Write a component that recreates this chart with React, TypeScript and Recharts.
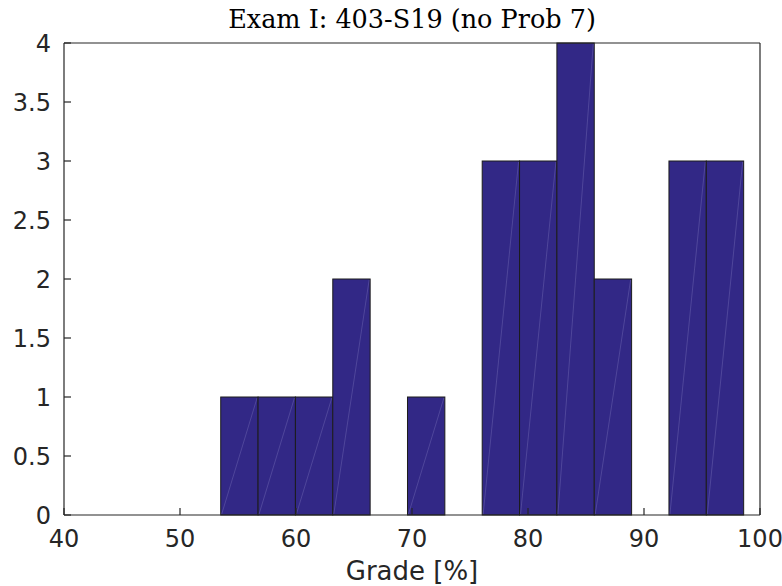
import { ComposedChart, Bar, XAxis, YAxis } from "recharts";

// histogram bins
const binStart = 53.5;
const binWidth = 3.22;
const binCounts = [1, 1, 1, 2, 0, 1, 0, 3, 3, 4, 2, 0, 3, 3];
const xTicks = [40, 50, 60, 70, 80, 90, 100];
const yTicks = [0, 0.5, 1, 1.5, 2, 2.5, 3, 3.5, 4];

const data = binCounts.map((count, i) => ({
  center: binStart + binWidth * (i + 0.5),
  count,
}));

const W = 782;
const H = 586;
const LEFT = 64;
const RIGHT = 22;
const TOP = 43;
const BOTTOM = 71;
const plotW = W - LEFT - RIGHT;
// bins touch each other, so the bar is as wide as one bin on the x scale
const barPx = (binWidth * plotW) / (xTicks[xTicks.length - 1] - xTicks[0]);

const axisColor = "#262626";
const tickFont = { fontFamily: "DejaVu Sans", fontSize: 24, fill: axisColor };

function HistBar(props: any) {
  const { x, y, width, height } = props;
  if (!height || height <= 0) return null;
  const left = x + width / 2 - barPx / 2;
  return (
    <g>
      <rect x={left} y={y} width={barPx} height={height} fill="#322886" stroke="#1c1c1c" strokeWidth={1} />
      <line
        x1={left + 1}
        y1={y + height - 1}
        x2={left + barPx - 1}
        y2={y + 1}
        stroke="#8e89c9"
        strokeOpacity={0.45}
        strokeWidth={0.7}
      />
    </g>
  );
}

export default function App() {
  return (
    <div style={{ position: "absolute", left: 0, top: 0, width: W, height: H, background: "#fff" }}>
      <ComposedChart
        width={W}
        height={H}
        data={data}
        margin={{ top: TOP - 1, right: RIGHT - 1, left: 0, bottom: 0 }}
      >
        <XAxis
          dataKey="center"
          type="number"
          domain={[40, 100]}
          ticks={xTicks}
          allowDataOverflow
          height={BOTTOM}
          tickSize={-7}
          tickMargin={22}
          tick={tickFont}
          axisLine={{ stroke: axisColor, strokeWidth: 1.2 }}
          tickLine={{ stroke: axisColor, strokeWidth: 1.2 }}
        />
        <XAxis
          xAxisId="top"
          orientation="top"
          dataKey="center"
          type="number"
          domain={[40, 100]}
          ticks={xTicks}
          allowDataOverflow
          height={1}
          tickSize={-7}
          tick={false}
          axisLine={{ stroke: axisColor, strokeWidth: 1.2 }}
          tickLine={{ stroke: axisColor, strokeWidth: 1.2 }}
        />
        <YAxis
          type="number"
          domain={[0, 4]}
          ticks={yTicks}
          width={LEFT}
          tickSize={-7}
          tickMargin={20}
          tick={tickFont}
          axisLine={{ stroke: axisColor, strokeWidth: 1.2 }}
          tickLine={{ stroke: axisColor, strokeWidth: 1.2 }}
        />
        <YAxis
          yAxisId="right"
          orientation="right"
          type="number"
          domain={[0, 4]}
          ticks={yTicks}
          width={1}
          tickSize={-7}
          tick={false}
          axisLine={{ stroke: axisColor, strokeWidth: 1.2 }}
          tickLine={{ stroke: axisColor, strokeWidth: 1.2 }}
        />
        <Bar dataKey="count" barSize={barPx} shape={<HistBar />} isAnimationActive={false} />
      </ComposedChart>
      <svg
        width={W}
        height={H}
        style={{ position: "absolute", left: 0, top: 0, pointerEvents: "none" }}
      >
        <text
          x={LEFT + plotW / 2}
          y={27.5}
          textAnchor="middle"
          fontFamily="DejaVu Serif"
          fontSize={25.5}
          fill="#000"
        >
          Exam I: 403-S19 (no Prob 7)
        </text>
        <text
          x={LEFT + plotW / 2}
          y={580}
          textAnchor="middle"
          fontFamily="DejaVu Sans"
          fontSize={26}
          fill={axisColor}
        >
          Grade [%]
        </text>
      </svg>
    </div>
  );
}
